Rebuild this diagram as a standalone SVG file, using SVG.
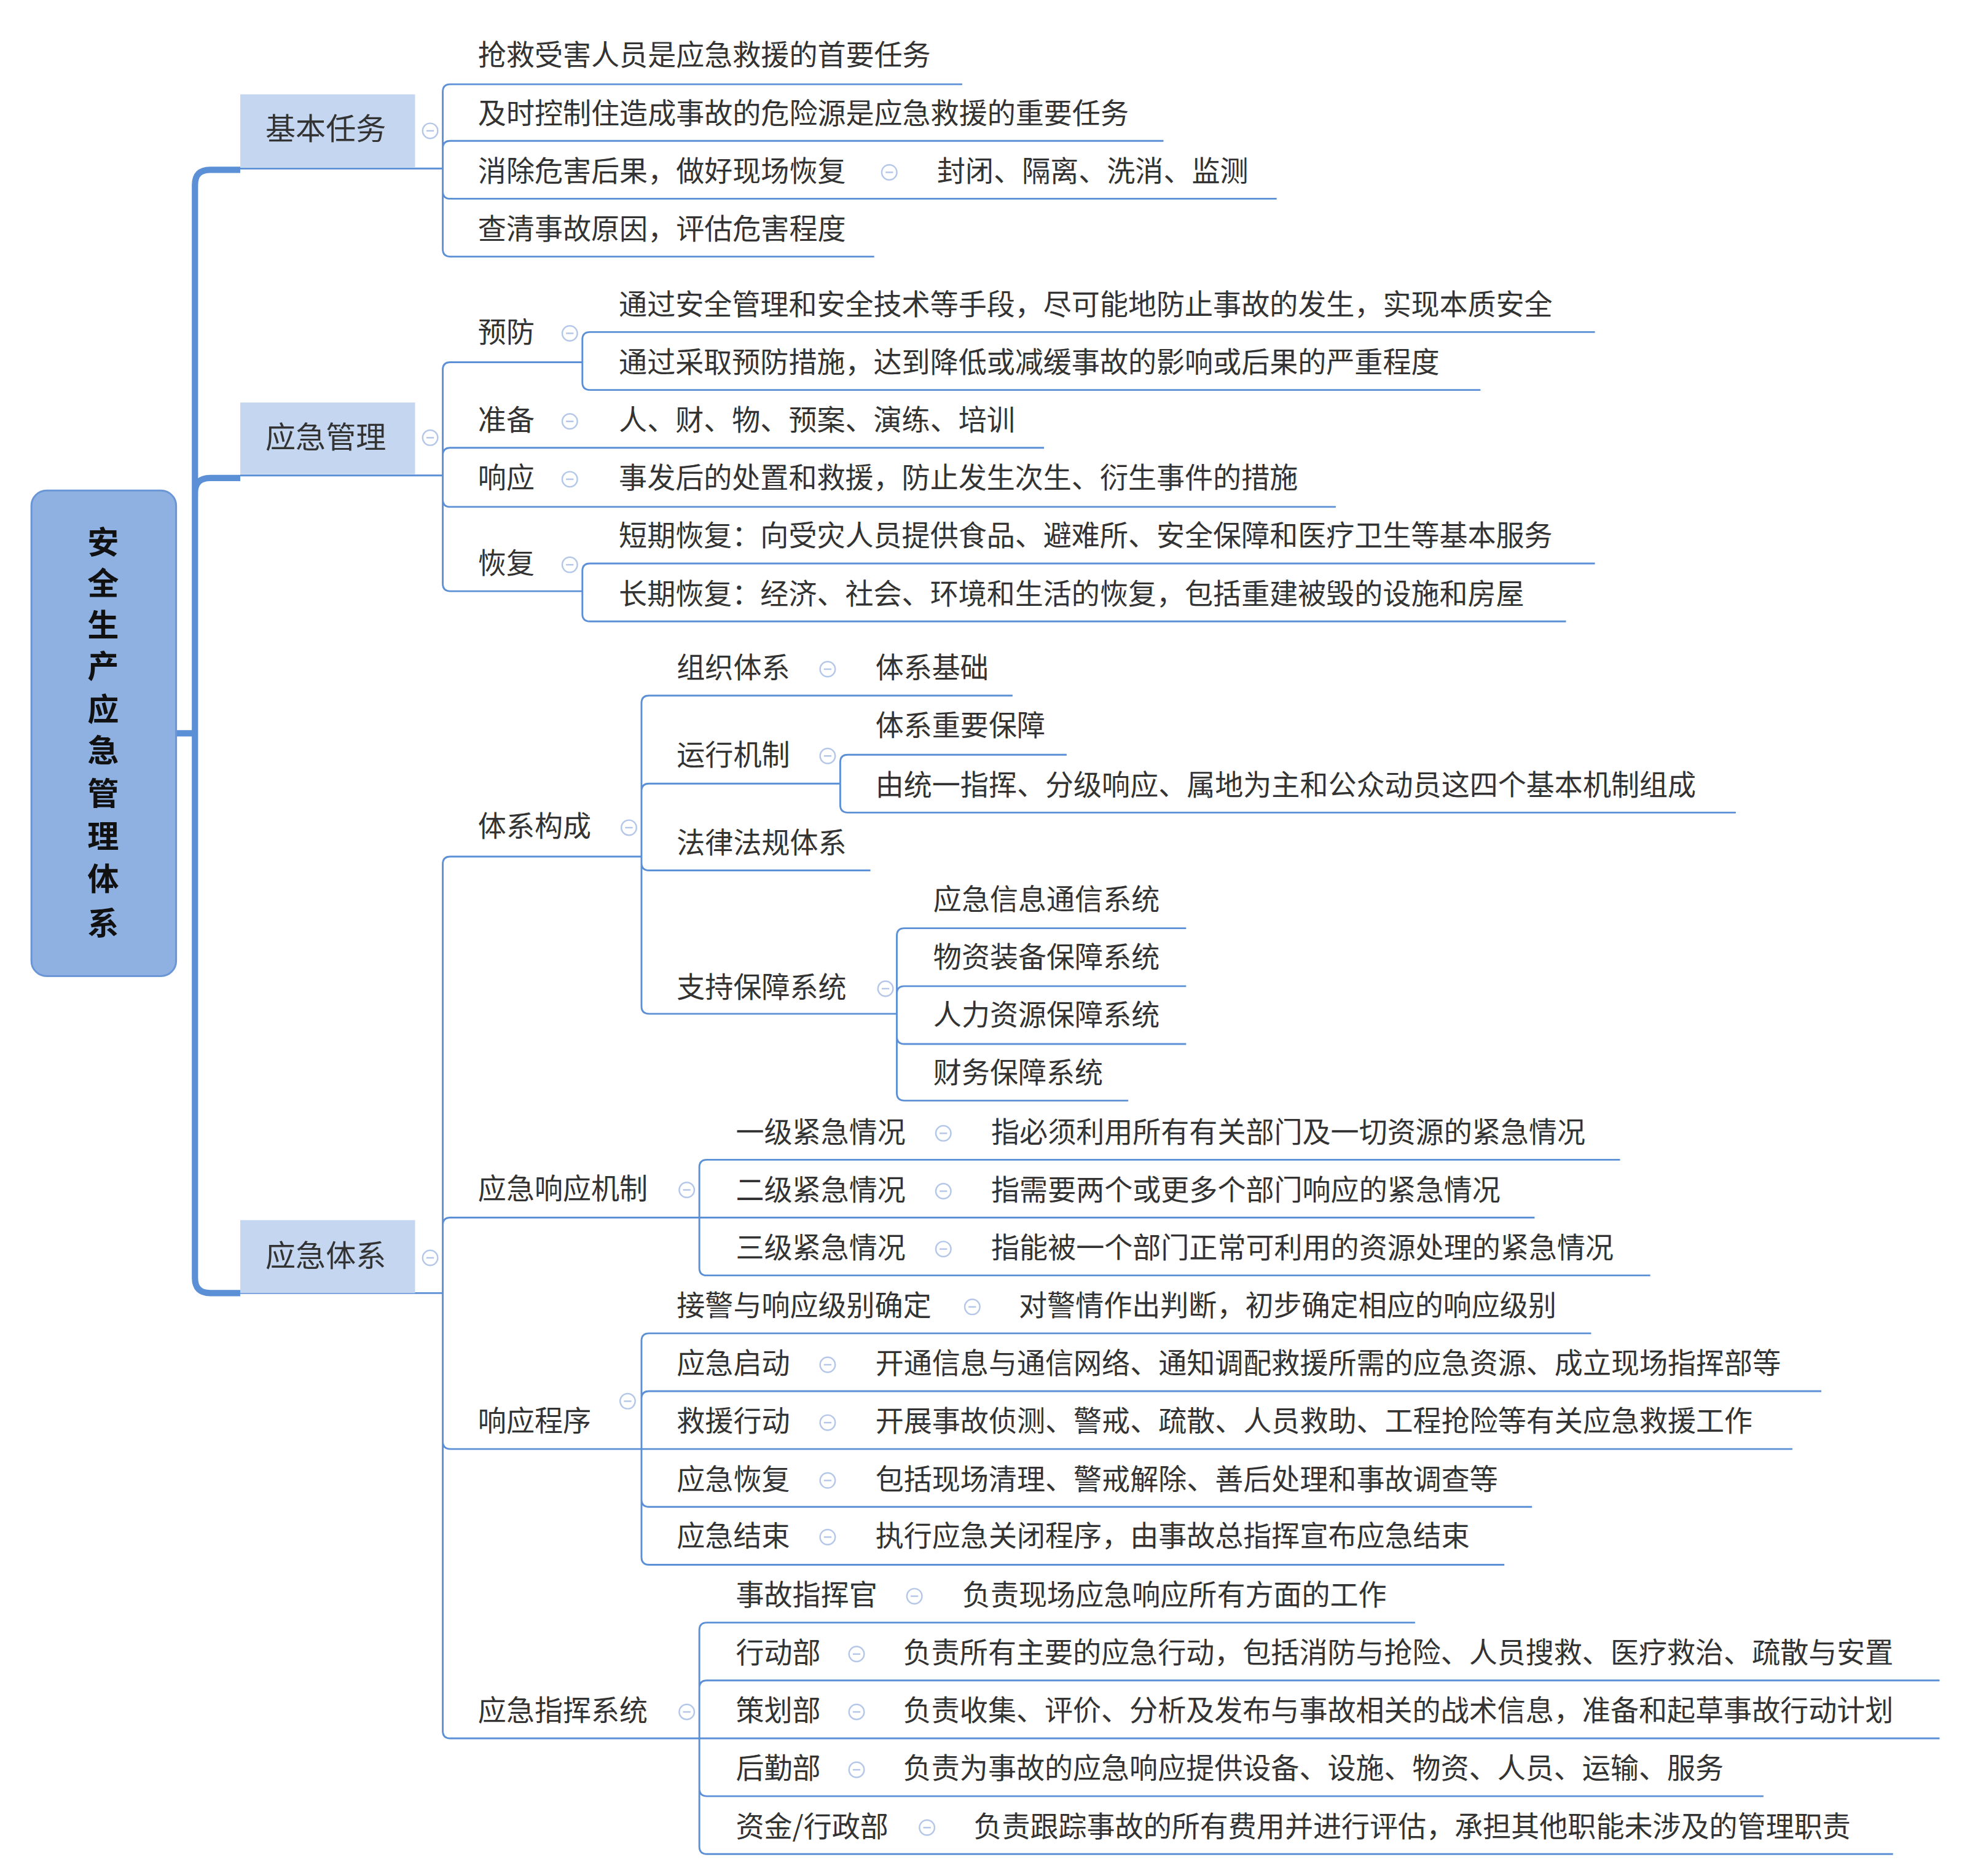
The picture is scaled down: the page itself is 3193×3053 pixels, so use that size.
<svg xmlns="http://www.w3.org/2000/svg" width="3193" height="3053" viewBox="0 0 3193 3053">
<style>
text{font-family:"Noto Sans CJK SC","Liberation Sans",sans-serif;font-size:22.5px;fill:#333}
.l1{font-size:24px}
.root{font-size:25px;font-weight:bold;fill:#111}
.c path{fill:none;stroke:#5b8fd6;stroke-width:1.4}
.c path.spine{stroke-width:5}
.ci{fill:#fff;stroke:#b5c7e8;stroke-width:1.2}
.mi{stroke:#b5c7e8;stroke-width:1.2}
</style>
<defs><g id="col"><circle class="ci" r="6"/><line class="mi" x1="-3" x2="3"/></g></defs>
<rect width="3193" height="3053" fill="#fff"/>
<g transform="scale(2.047)">
<g id="connectors" class="c">
<path class="spine" d="M191 135 H167 Q155 135 155 147 V1016 Q155 1028 167 1028 H191 M155 392 Q155 380 167 380 H191 M140 583 H155"/>
<path d="M191 134 H352 M191 378 H352 M191 1028 H352"/>
<path d="M352 133 V73 Q352 67 358 67 H765 M352 133 V118 Q352 112 358 112 H925 M352 133 V152 Q352 158 358 158 H1015 M352 133 V198 Q352 204 358 204 H695"/>
<path d="M352 378 V294 Q352 288 358 288 H463 M352 378 V362 Q352 356 358 356 H830 M352 378 V397 Q352 403 358 403 H1062 M352 378 V464 Q352 470 358 470 H463"/>
<path d="M463 288 V270 Q463 264 469 264 H1268 M463 288 V304 Q463 310 469 310 H1177"/>
<path d="M463 470 V454 Q463 448 469 448 H1268 M463 470 V488 Q463 494 469 494 H1245"/>
<path d="M352 1028 V687 Q352 681 358 681 H510 M352 1028 V974 Q352 968 358 968 H556 M352 1028 V1146 Q352 1152 358 1152 H510 M352 1028 V1376 Q352 1382 358 1382 H556"/>
<path d="M510 681 V559 Q510 553 516 553 H805 M510 681 V629 Q510 623 516 623 H668 M510 681 V686 Q510 692 516 692 H692 M510 681 V800 Q510 806 516 806 H713"/>
<path d="M668 623 V606 Q668 600 674 600 H848 M668 623 V640 Q668 646 674 646 H1380"/>
<path d="M713 806 V744 Q713 738 719 738 H943 M713 806 V790 Q713 784 719 784 H943 M713 806 V824 Q713 830 719 830 H943 M713 806 V869 Q713 875 719 875 H897"/>
<path d="M556 968 V928 Q556 922 562 922 H1288 M556 968 H1220 M556 968 V1008 Q556 1014 562 1014 H1312"/>
<path d="M510 1152 V1066 Q510 1060 516 1060 H1265 M510 1152 V1112 Q510 1106 516 1106 H1448 M510 1152 H1425 M510 1152 V1192 Q510 1198 516 1198 H1218 M510 1152 V1238 Q510 1244 516 1244 H1196"/>
<path d="M556 1382 V1296 Q556 1290 562 1290 H1125 M556 1382 V1342 Q556 1336 562 1336 H1542 M556 1382 H1542 M556 1382 V1422 Q556 1428 562 1428 H1402 M556 1382 V1468 Q556 1474 562 1474 H1505"/>
</g>
<g id="root"><rect x="25" y="390" width="115" height="386" rx="12" fill="#8eb1e1" stroke="#6b96d6" stroke-width="1.5"/>
<text class="root" text-anchor="middle" x="82"><tspan x="82" y="440">安</tspan><tspan x="82" y="473">全</tspan><tspan x="82" y="506">生</tspan><tspan x="82" y="539">产</tspan><tspan x="82" y="573">应</tspan><tspan x="82" y="606">急</tspan><tspan x="82" y="640">管</tspan><tspan x="82" y="674">理</tspan><tspan x="82" y="708">体</tspan><tspan x="82" y="743">系</tspan></text></g>
<g id="n-jbrw"><rect x="191" y="75" width="139" height="58" fill="#c5d7f0"/><text class="l1" x="211" y="111">基本任务</text><use href="#col" x="342" y="104"/></g>
<g id="n-yjgl"><rect x="191" y="320" width="139" height="57" fill="#c5d7f0"/><text class="l1" x="211" y="356">应急管理</text><use href="#col" x="342" y="348"/></g>
<g id="n-yjtx"><rect x="191" y="970" width="139" height="58" fill="#c5d7f0"/><text class="l1" x="211" y="1007">应急体系</text><use href="#col" x="342" y="1000"/></g>
<g id="n-jb"><text x="380" y="52">抢救受害人员是应急救援的首要任务</text><text x="380" y="98">及时控制住造成事故的危险源是应急救援的重要任务</text><text x="380" y="144">消除危害后果，做好现场恢复</text><use href="#col" x="707" y="137"/><text x="745" y="144">封闭、隔离、洗消、监测</text><text x="380" y="190">查清事故原因，评估危害程度</text></g>
<g id="n-gl"><text x="380" y="272">预防</text><use href="#col" x="453" y="265"/><text x="492" y="250">通过安全管理和安全技术等手段，尽可能地防止事故的发生，实现本质安全</text><text x="492" y="296">通过采取预防措施，达到降低或减缓事故的影响或后果的严重程度</text>
<text x="380" y="342">准备</text><use href="#col" x="453" y="335"/><text x="492" y="342">人、财、物、预案、演练、培训</text>
<text x="380" y="388">响应</text><use href="#col" x="453" y="381"/><text x="492" y="388">事发后的处置和救援，防止发生次生、衍生事件的措施</text>
<text x="380" y="456">恢复</text><use href="#col" x="453" y="449"/><text x="492" y="434">短期恢复：向受灾人员提供食品、避难所、安全保障和医疗卫生等基本服务</text><text x="492" y="480">长期恢复：经济、社会、环境和生活的恢复，包括重建被毁的设施和房屋</text></g>
<g id="n-txgc"><text x="380" y="665">体系构成</text><use href="#col" x="500" y="658"/>
<text x="538" y="539">组织体系</text><use href="#col" x="658" y="532"/><text x="696" y="539">体系基础</text>
<text x="538" y="608">运行机制</text><use href="#col" x="658" y="601"/><text x="696" y="585">体系重要保障</text><text x="696" y="632">由统一指挥、分级响应、属地为主和公众动员这四个基本机制组成</text>
<text x="538" y="678">法律法规体系</text>
<text x="538" y="793">支持保障系统</text><use href="#col" x="704" y="786"/><text x="742" y="723">应急信息通信系统</text><text x="742" y="769">物资装备保障系统</text><text x="742" y="815">人力资源保障系统</text><text x="742" y="861">财务保障系统</text></g>
<g id="n-xyjz"><text x="380" y="953">应急响应机制</text><use href="#col" x="546" y="946"/>
<text x="585" y="908">一级紧急情况</text><use href="#col" x="750" y="901"/><text x="788" y="908">指必须利用所有有关部门及一切资源的紧急情况</text>
<text x="585" y="954">二级紧急情况</text><use href="#col" x="750" y="947"/><text x="788" y="954">指需要两个或更多个部门响应的紧急情况</text>
<text x="585" y="1000">三级紧急情况</text><use href="#col" x="750" y="993"/><text x="788" y="1000">指能被一个部门正常可利用的资源处理的紧急情况</text></g>
<g id="n-xycx"><text x="380" y="1138">响应程序</text><use href="#col" x="499" y="1114"/>
<text x="538" y="1046">接警与响应级别确定</text><use href="#col" x="773" y="1039"/><text x="810" y="1046">对警情作出判断，初步确定相应的响应级别</text>
<text x="538" y="1092">应急启动</text><use href="#col" x="658" y="1085"/><text x="696" y="1092">开通信息与通信网络、通知调配救援所需的应急资源、成立现场指挥部等</text>
<text x="538" y="1138">救援行动</text><use href="#col" x="658" y="1131"/><text x="696" y="1138">开展事故侦测、警戒、疏散、人员救助、工程抢险等有关应急救援工作</text>
<text x="538" y="1184">应急恢复</text><use href="#col" x="658" y="1177"/><text x="696" y="1184">包括现场清理、警戒解除、善后处理和事故调查等</text>
<text x="538" y="1229">应急结束</text><use href="#col" x="658" y="1222"/><text x="696" y="1229">执行应急关闭程序，由事故总指挥宣布应急结束</text></g>
<g id="n-zhxt"><text x="380" y="1368">应急指挥系统</text><use href="#col" x="546" y="1361"/>
<text x="585" y="1276">事故指挥官</text><use href="#col" x="727" y="1269"/><text x="765" y="1276">负责现场应急响应所有方面的工作</text>
<text x="585" y="1322">行动部</text><use href="#col" x="681" y="1315"/><text x="718" y="1322">负责所有主要的应急行动，包括消防与抢险、人员搜救、医疗救治、疏散与安置</text>
<text x="585" y="1368">策划部</text><use href="#col" x="681" y="1361"/><text x="718" y="1368">负责收集、评价、分析及发布与事故相关的战术信息，准备和起草事故行动计划</text>
<text x="585" y="1414">后勤部</text><use href="#col" x="681" y="1407"/><text x="718" y="1414">负责为事故的应急响应提供设备、设施、物资、人员、运输、服务</text>
<text x="585" y="1460">资金/行政部</text><use href="#col" x="737" y="1453"/><text x="774" y="1460">负责跟踪事故的所有费用并进行评估，承担其他职能未涉及的管理职责</text></g>
</g>
</svg>
